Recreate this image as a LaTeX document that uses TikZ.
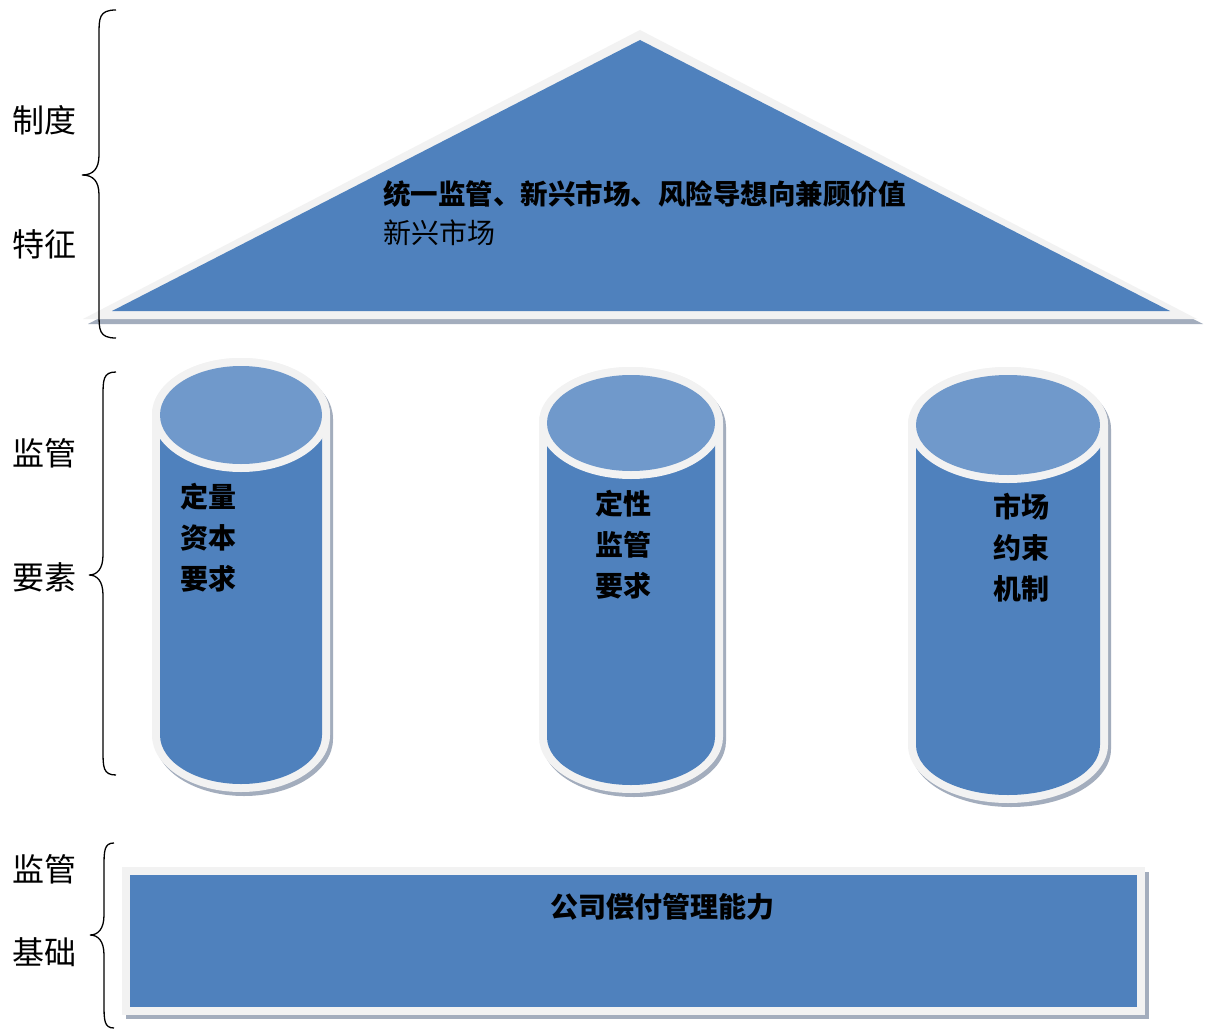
\documentclass[tikz,border=0pt]{standalone}
\usepackage{fontspec}
\setmainfont{Noto Sans CJK SC}
\definecolor{cblue}{HTML}{4F81BD}
\definecolor{ctop}{HTML}{7099CB}
\definecolor{cring}{HTML}{F2F2F2}
\definecolor{cshadow}{HTML}{A3ADBD}
\newcommand\mycyl[5]{% cx, rx, top center y, bottom center y, ry
  \fill[cshadow] ({#1-#2-8+3},{#3+4}) -- ({#1-#2-8+3},{#4+4}) arc[start angle=180,end angle=360,x radius={(#2+8)*1pt},y radius={(#5+8)*1pt}] -- ({#1+#2+8+3},{#3+4}) arc[start angle=0,end angle=180,x radius={(#2+8)*1pt},y radius={(#5+8)*1pt}] -- cycle;
  \fill[cring] ({#1-#2-8},{#3}) -- ({#1-#2-8},{#4}) arc[start angle=180,end angle=360,x radius={(#2+8)*1pt},y radius={(#5+8)*1pt}] -- ({#1+#2+8},{#3}) arc[start angle=0,end angle=180,x radius={(#2+8)*1pt},y radius={(#5+8)*1pt}] -- cycle;
  \fill[cblue] ({#1-#2},{#3}) -- ({#1-#2},{#4}) arc[start angle=180,end angle=360,x radius={#2*1pt},y radius={#5*1pt}] -- ({#1+#2},{#3}) -- cycle;
  \fill[cring] (#1,#3) ellipse[x radius={(#2+8)*1pt},y radius={(#5+8)*1pt}];
  \fill[ctop] (#1,#3) ellipse[x radius={#2*1pt},y radius={#5*1pt}];
}
\newcommand\mybrace[6]{% endx, vx, tipx, top, tip, bottom
  \draw[bracestyle] (#1,#4) .. controls (#2,#4) and (#2,{#4+8}) .. (#2,{#4+25}) -- (#2,{#5-20}) .. controls (#2,{#5-6}) and ({#2-6},#5) .. (#3,#5) .. controls ({#2-6},#5) and (#2,{#5+6}) .. (#2,{#5+20}) -- (#2,{#6-25}) .. controls (#2,{#6-8}) and (#2,#6) .. (#1,#6);
}
\begin{document}
\begin{tikzpicture}[x=1pt,y=-1pt,
  bracestyle/.style={line width=1.3pt,black},
  sidelabel/.style={anchor=west,inner sep=0pt,font=\fontsize{32}{36}\selectfont},
  boldtext/.style={inner sep=0pt,font=\fontsize{28}{41}\selectfont\bfseries,align=left},
  plaintext/.style={inner sep=0pt,font=\fontsize{28}{34}\selectfont}]
\useasboundingbox (0,0) rectangle (1207,1030);
\fill[white] (0,0) rectangle (1207,1030);
% roof
\fill[cshadow] (640,36) -- (1203,324) -- (88,324) -- cycle;
\fill[cring] (640,30) -- (1197,319) -- (83,319) -- cycle;
\fill[cblue] (640,40) -- (1170,311) -- (112,311) -- cycle;
% pillars
\mycyl{241}{81}{415}{735}{49}
\mycyl{631}{84}{423}{737}{48}
\mycyl{1008}{92}{425}{745}{50}
% base
\fill[cshadow] (126,872) rectangle (1149,1019);
\fill[cring] (122,867) rectangle (1145,1015);
\fill[cblue] (130,875) rectangle (1137,1007);
% braces
\mybrace{116}{99}{82}{10}{175}{338}
\mybrace{116}{103}{89}{372}{575}{775}
\mybrace{114}{104}{90}{843}{935}{1028}
% side labels
\node[sidelabel] (l1) at (12,120) {制度};
\node[sidelabel] (l2) at (12,244) {特征};
\node[sidelabel] (l3) at (12,453) {监管};
\node[sidelabel] (l4) at (12,577) {要素};
\node[sidelabel] (l5) at (12,869) {监管};
\node[sidelabel] (l6) at (12,952) {基础};
% texts
\node[boldtext,anchor=west,font=\fontsize{27.5}{34}\selectfont\bfseries] (roof1) at (383,194) {统一监管、新兴市场、风险导想向兼顾价值};
\node[plaintext,anchor=west] (roof2) at (383,233) {新兴市场};
\node[boldtext,anchor=west] (c1) at (180,538) {定量\\资本\\要求};
\node[boldtext,anchor=west] (c2) at (595,545) {定性\\监管\\要求};
\node[boldtext,anchor=west] (c3) at (993,548) {市场\\约束\\机制};
\node[boldtext,anchor=center] (base) at (662,907) {公司偿付管理能力};
\end{tikzpicture}
\end{document}
